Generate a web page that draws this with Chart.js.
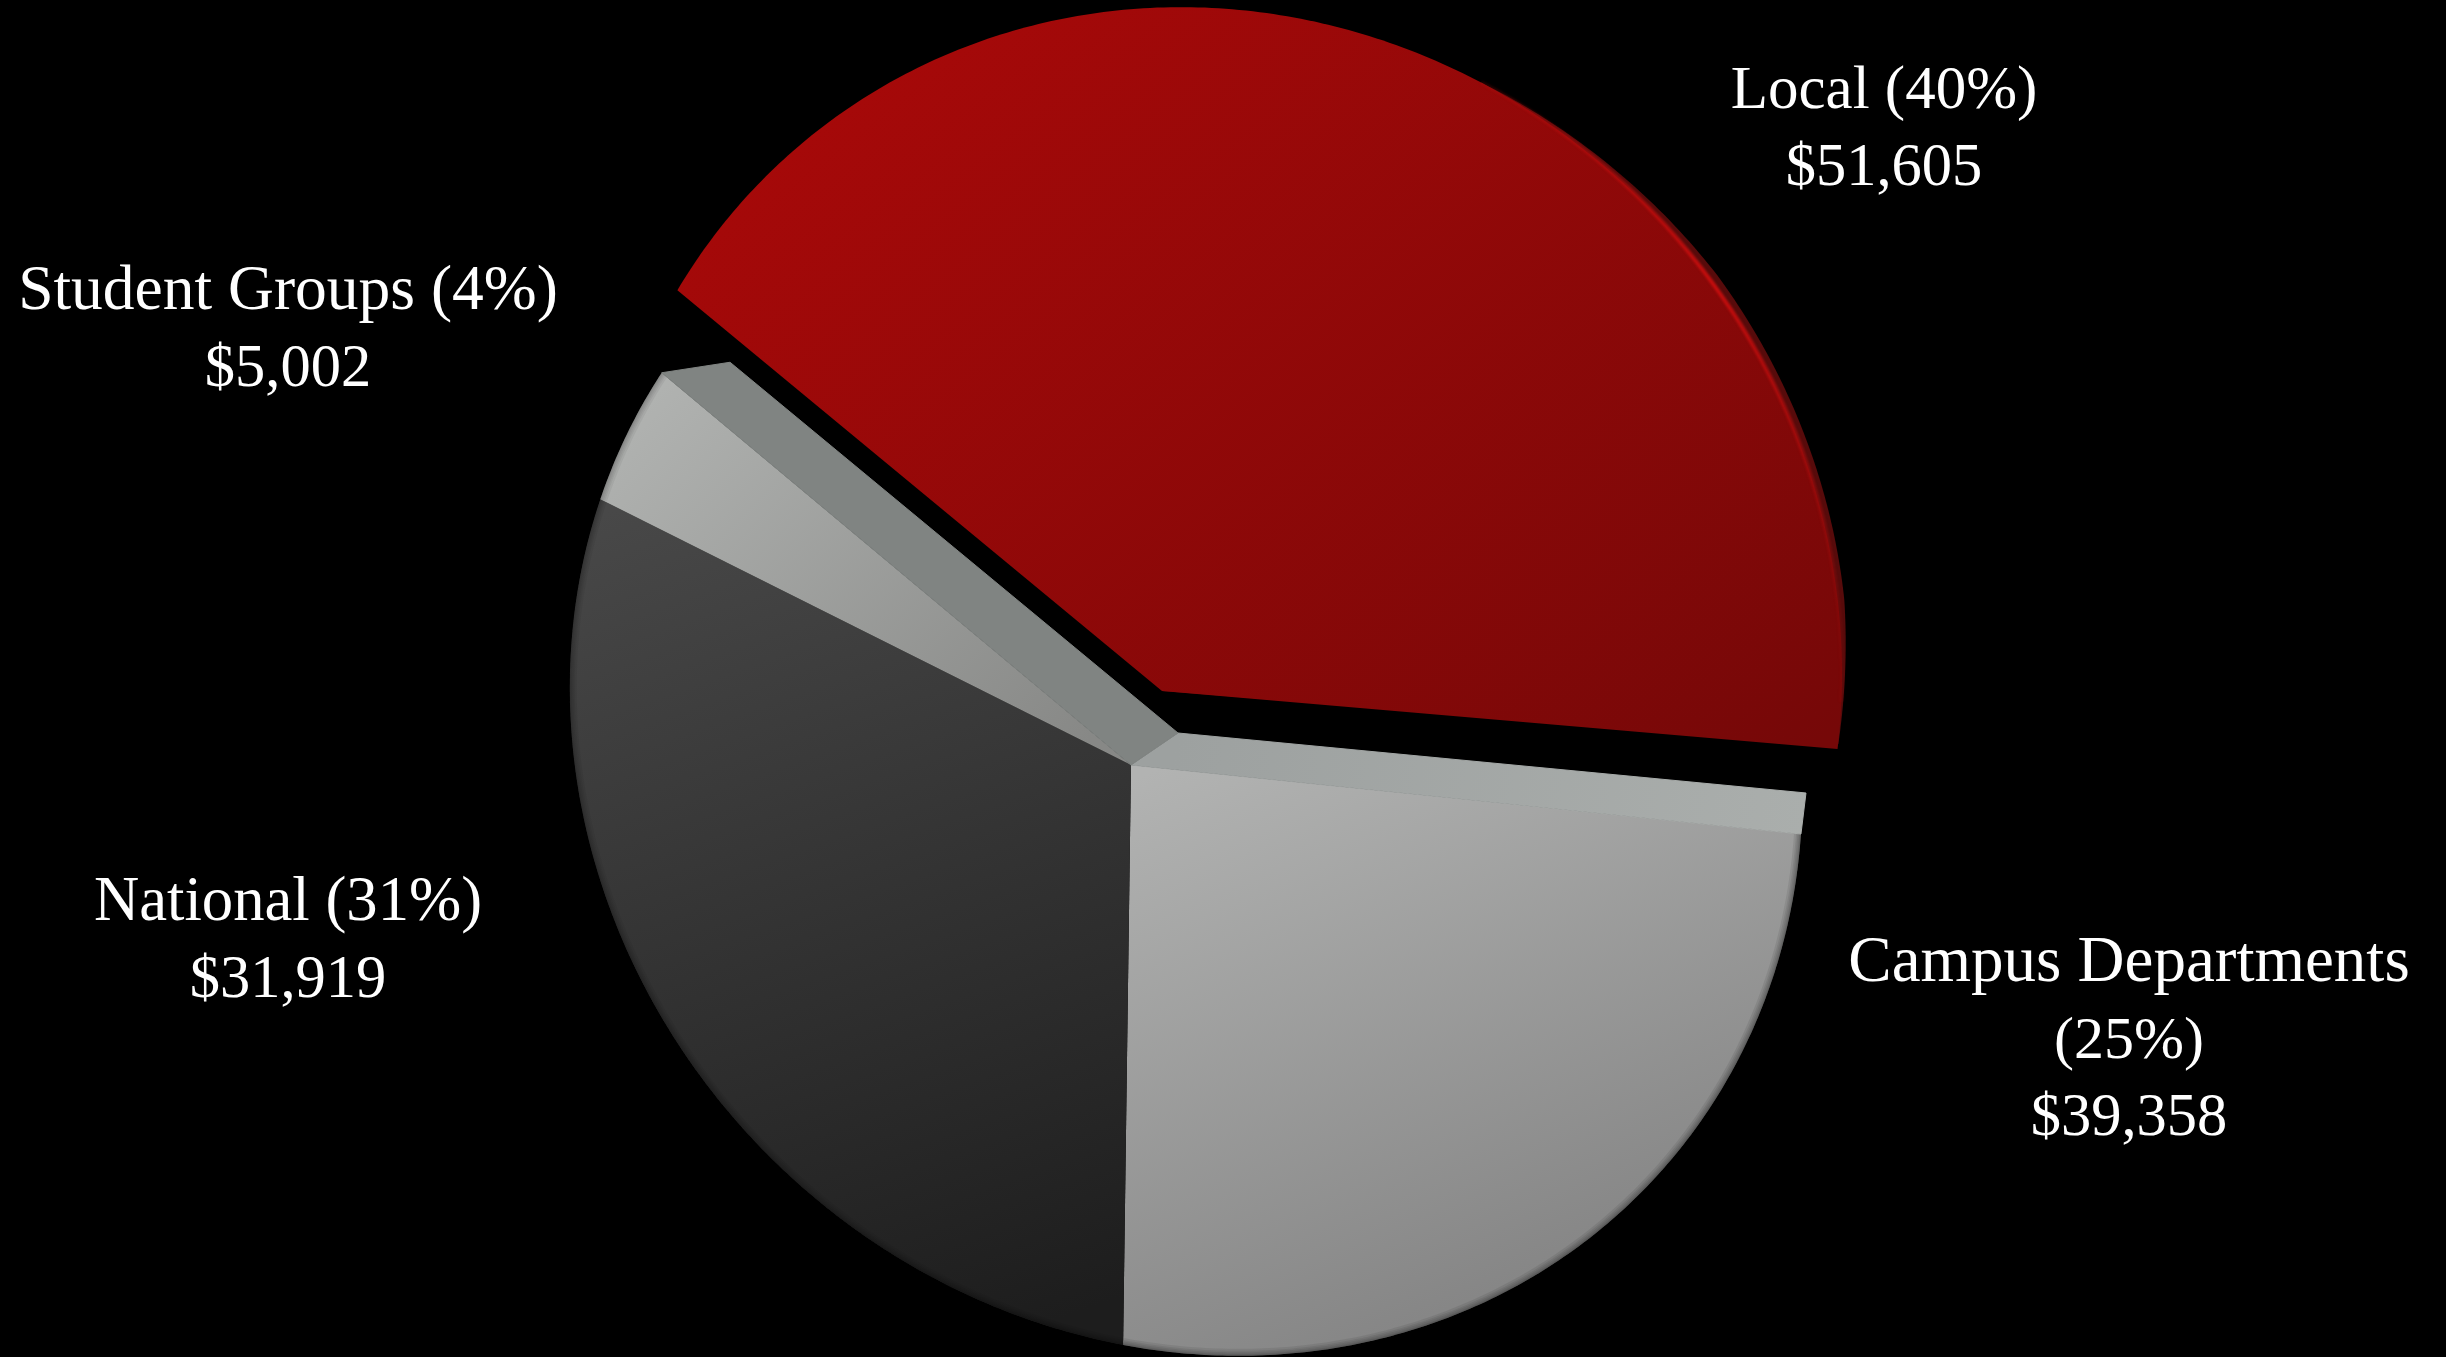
<!DOCTYPE html>
<html>
<head>
<meta charset="utf-8">
<title>Funding sources</title>
<script src="https://cdn.jsdelivr.net/npm/chart.js@4/dist/chart.umd.js"></script>
<style>
    html, body { margin: 0; padding: 0; background: #000; overflow: hidden; }
    canvas { display: block; }
</style>
</head>
<body>
<canvas id="pieChart" width="2446" height="1357"></canvas>
<script>
// Slices, clockwise from the upper left edge of the red one
const categories = ['Local', 'Campus Departments', 'National', 'Student Groups'];
const shares = [40, 25, 31, 4];
const amounts = ['$51,605', '$39,358', '$31,919', '$5,002'];

// Tilted disc: a unit circle goes through a projective map to the page
const discFace = { x: 1131, y: 765, a: 610.6, b: -8.3, c: 62.9, d: 609, g: -0.0886, h: 0.05 };
const discBack = { x: 1178, y: 733, a: 573.6, b: 8.5, c: 54.8, d: 585, g: -0.0866, h: 0.0391 };
const redFace = { x: 1162, y: 691, a: 616.5, b: -11, c: 52.9, d: 620, g: -0.0874, h: 0.0933 };

const project = (m, angle) => {
    const ux = Math.cos(angle), uy = Math.sin(angle);
    const w = 1 + m.g * ux + m.h * uy;
    return [m.x + (m.a * ux + m.b * uy) / w, m.y + (m.c * ux + m.d * uy) / w];
};

const rimPath = (ctx, m, from, to, moveFirst) => {
    const steps = Math.max(2, Math.ceil((to - from) / 0.01));
    for (let i = 0; i <= steps; i++) {
        const p = project(m, from + (to - from) * i / steps);
        if (i === 0 && moveFirst) ctx.moveTo(p[0], p[1]);
        else ctx.lineTo(p[0], p[1]);
    }
};

const linear = (ctx, x0, y0, x1, y1, stops) => {
    const g = ctx.createLinearGradient(x0, y0, x1, y1);
    stops.forEach((c, i) => g.addColorStop(i / (stops.length - 1), c));
    return g;
};

// Flat side wall of a wedge, between its edge on the face and on the back
const drawWall = (ctx, angle, fill) => {
    const near = project(discFace, angle), far = project(discBack, angle);
    ctx.beginPath();
    ctx.moveTo(discFace.x, discFace.y);
    ctx.lineTo(near[0], near[1]);
    ctx.lineTo(far[0], far[1]);
    ctx.lineTo(discBack.x, discBack.y);
    ctx.closePath();
    ctx.fillStyle = fill;
    ctx.strokeStyle = fill;
    ctx.lineWidth = 1;
    ctx.fill();
    ctx.stroke();
};

const rad = (deg) => deg * Math.PI / 180;

// Dark strip showing behind the upper right of the red wedge, tapering at both ends
const drawRedSide = (ctx) => {
    const from = rad(296), to = rad(360);
    ctx.beginPath();
    ctx.moveTo(redFace.x, redFace.y);
    for (let t = from; t <= to; t += 0.01) {
        const p = project(redFace, t);
        const ramp = Math.min(1, (t - from) / rad(24), (to - t) / rad(12));
        ctx.lineTo(p[0] + 6 * ramp, p[1] - 6 * ramp);
    }
    ctx.closePath();
    ctx.fillStyle = '#570b0b';
    ctx.fill();
};

const sliceStyles = [
    {
        face: redFace,
        fill: (ctx) => linear(ctx, 760, 60, 1480, 1000, ['#a90909', '#760808']),
        edge: null,
        before: drawRedSide,
        after: (ctx) => {
            ctx.save();
            ctx.filter = 'blur(1px)';
            ctx.beginPath();
            rimPath(ctx, redFace, rad(296), rad(356), true);
            ctx.lineWidth = 4;
            ctx.strokeStyle = linear(ctx, 1420, 40, 1840, 650,
                ['rgba(196,14,14,0)', 'rgba(200,14,14,0.95)', 'rgba(170,12,12,0.15)']);
            ctx.stroke();
            ctx.restore();
        }
    },
    {
        face: discFace,
        fill: (ctx) => linear(ctx, 1180, 760, 1420, 1350, ['#b2b3b2', '#848484']),
        edge: 0.08,
        before: () => {},
        after: (ctx, start) => drawWall(ctx, start, linear(ctx, 1178, 733, 1806, 830, ['#9da1a0', '#aaaeac']))
    },
    {
        face: discFace,
        fill: (ctx) => linear(ctx, 700, 480, 1000, 1340, ['#484848', '#1d1d1d']),
        edge: 0.05,
        before: () => {},
        after: () => {}
    },
    {
        face: discFace,
        fill: (ctx) => linear(ctx, 670, 380, 1060, 770, ['#b0b2b0', '#878886']),
        edge: 0.05,
        before: () => {},
        after: (ctx, start, end) => drawWall(ctx, end, '#808482')
    }
];

// Arc element that lays its wedge on the tilted disc instead of a flat circle
class PerspectiveArc extends Chart.ArcElement {
    static id = 'perspectiveArc';

    draw(ctx) {
        const { startAngle, endAngle } = this.getProps(['startAngle', 'endAngle']);
        const style = sliceStyles[this.$context.dataIndex];
        const m = style.face;

        ctx.save();
        style.before(ctx);

        ctx.beginPath();
        ctx.moveTo(m.x, m.y);
        rimPath(ctx, m, startAngle, endAngle, false);
        ctx.closePath();
        ctx.fillStyle = style.fill(ctx);
        ctx.fill();

        // soft shading along the outer rim, built up from nested strokes
        if (style.edge) {
            ctx.save();
            ctx.clip();
            ctx.beginPath();
            rimPath(ctx, m, startAngle, endAngle, true);
            ctx.strokeStyle = `rgba(0,0,0,${style.edge})`;
            [14, 10, 7, 4, 2].forEach(width => {
                ctx.lineWidth = width;
                ctx.stroke();
            });
            ctx.restore();
        }

        style.after(ctx, startAngle, endAngle);
        ctx.restore();
    }
}

Chart.register(PerspectiveArc);
Chart.defaults.datasets.pie.dataElementType = 'perspectiveArc';

// Label blocks: centre x and first baseline, with a text size per line
const labelBlocks = [
    { x: 1884, y: 108, lines: [[`${categories[0]} (${shares[0]}%)`, 61], [amounts[0], 60.5]] },
    { x: 2129, y: 981, lines: [[categories[1], 65], [`(${shares[1]}%)`, 60], [amounts[1], 60.5]] },
    { x: 288, y: 920, lines: [[`${categories[2]} (${shares[2]}%)`, 62.7], [amounts[2], 60.5]] },
    { x: 288, y: 309, lines: [[`${categories[3]} (${shares[3]}%)`, 63.5], [amounts[3], 60.5]] }
];

const sliceLabels = {
    id: 'sliceLabels',
    afterDraw(chart) {
        const ctx = chart.ctx;
        ctx.save();
        ctx.fillStyle = '#ffffff';
        ctx.textAlign = 'center';
        ctx.textBaseline = 'alphabetic';
        labelBlocks.forEach(block => {
            block.lines.forEach(([text, size], i) => {
                ctx.font = `${size}px 'Liberation Serif'`;
                ctx.fillText(text, block.x, block.y + i * 77);
            });
        });
        ctx.restore();
    }
};

new Chart(document.getElementById('pieChart').getContext('2d'), {
    type: 'pie',
    data: {
        labels: categories,
        datasets: [{
            data: shares,
            backgroundColor: ['#960909', '#9d9d9d', '#333333', '#9f9f9e'],
            borderWidth: 0
        }]
    },
    options: {
        responsive: false,
        animation: false,
        events: [],
        rotation: 306,
        plugins: {
            legend: { display: false },
            tooltip: { enabled: false }
        }
    },
    plugins: [sliceLabels]
});
</script>
</body>
</html>
